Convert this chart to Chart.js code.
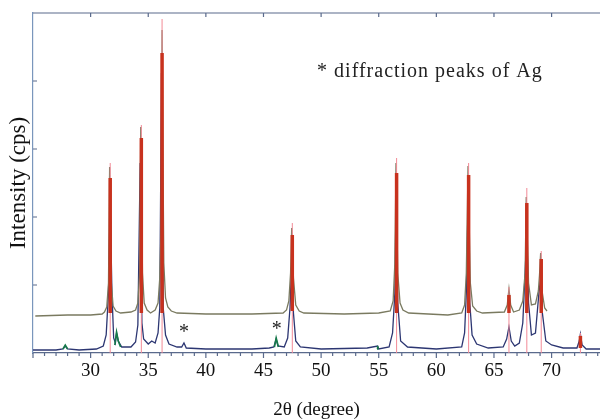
<!DOCTYPE html>
<html>
<head>
<meta charset="utf-8">
<script src="https://cdn.jsdelivr.net/npm/chart.js@4.4.1/dist/chart.umd.min.js"></script>
<style>
html,body{margin:0;padding:0;background:#fff;}
#wrap{width:600px;height:420px;position:relative;}
</style>
</head>
<body>
<div id="wrap"><canvas id="c" width="600" height="420"></canvas></div>
<script>
// ---- data (2θ in degrees, intensity in arbitrary units) ----
const upperX = [25.2,28,30,31.0,31.2,31.4,31.55,31.65,31.8,31.95,32.2,32.6,33.5,33.9,34.1,34.25,34.35,34.5,34.65,34.9,35.2,35.6,35.85,36.0,36.1,36.2,36.35,36.5,36.7,37.0,37.5,40,44,46.7,47.0,47.2,47.35,47.45,47.6,47.8,48.1,48.5,52,55,56.0,56.25,56.4,56.5,56.65,56.85,57.1,57.6,61,62.2,62.45,62.6,62.75,62.95,63.15,63.5,64,65.9,66.15,66.3,66.45,66.7,67.2,67.5,67.7,67.8,68.0,68.25,68.6,68.85,68.95,69.05,69.2,69.4,69.6];
const upperY = [37,38,38,39,41,46,70,186,70,47,42,40,41,43,50,80,226,80,50,43,40,43,50,75,120,323,90,55,46,42,40,39,39,40,43,52,80,125,75,48,42,40,39,40,42,52,90,190,80,50,43,40,38,40,48,80,187,70,47,42,40,41,48,64,48,41,43,52,80,156,70,48,49,62,78,100,60,45,42];

const lowerX = [25,27.0,27.6,27.8,28.0,29,30.5,31.1,31.35,31.55,31.7,31.85,32.0,32.15,32.25,32.4,32.7,33.5,33.9,34.1,34.3,34.45,34.6,35.0,35.3,35.6,35.85,36.0,36.15,36.3,36.5,36.8,37.5,37.9,38.1,38.3,40,44,45.5,45.9,46.1,46.25,46.8,47.1,47.3,47.45,47.6,47.8,48.2,50,54,54.9,55.0,55.9,56.2,56.4,56.5,56.65,56.9,57.5,60,62.2,62.45,62.6,62.75,62.9,63.1,63.5,64.5,65.8,66.1,66.3,66.5,66.8,67.2,67.5,67.7,67.85,68.0,68.25,68.6,68.9,69.05,69.2,69.5,70,71,72.2,72.4,72.5,72.65,73,74.3];
const lowerY = [3,3,4,7,4,3,4,7,18,60,150,60,15,10,20,12,6,6,11,28,190,30,14,9,12,10,20,45,280,45,18,9,6,6,10,5,4,4,5,6,14,7,6,15,45,90,40,12,6,4,5,7,4,6,20,60,150,50,12,6,4,6,20,60,150,50,18,9,5,6,14,26,12,7,10,30,80,120,50,18,20,60,75,40,12,8,5,5,12,19,8,4,4];

// small Ag-related features of the lower trace (green), null = gap
const agX = [27.6,27.8,28.0,null,32.1,32.25,32.4,32.6,null,45.95,46.1,46.3,null,54.85,54.9,54.95];
const agY = [4,8,4,null,8,21,12,6,null,6,15,6,null,4,7,4];

// reference (standard) line positions
const refPos  = [31.7,34.4,36.2,47.5,56.55,62.8,66.3,67.85,69.1,72.5];
const refTop  = [190,228,334,130,195,190,66,165,102,20];
const redLow  = [40,40,40,42,40,40,40,40,40,5];
const redHigh = [175,215,300,118,180,178,58,150,94,17];

const xTickVals = [30,35,40,45,50,55,60,65,70];
const yTickVals = [68,136,204,272];
const agMarks = [[38.1,20],[46.15,23]];
const noteText = '* diffraction peaks of Ag';

const pts = (xs, ys) => xs.map((x,i) => ({x: x===null?NaN:x, y: ys[i]}));
const seg = (xs, lo, hi) => { const a=[]; xs.forEach((x,i)=>{a.push({x, y:lo[i]},{x, y:hi[i]},{x:NaN,y:null});}); return a; };
const zeros = refPos.map(()=>0);

const frame = {
  id:'frame',
  afterDatasetsDraw(chart){
    const {ctx, chartArea:a, scales:{x,y}} = chart;
    ctx.save();
    ctx.strokeStyle = '#5a6a8c';
    ctx.lineWidth = 1.2;
    ctx.beginPath();
    ctx.moveTo(a.left, a.top); ctx.lineTo(a.right, a.top);
    // bottom minor/major ticks (outward)
    for (let v = 25; v <= 74; v++) {
      const px = x.getPixelForValue(v);
      ctx.moveTo(px, a.bottom); ctx.lineTo(px, a.bottom + (v % 5 === 0 ? 5 : 3));
    }
    // top ticks (inward)
    xTickVals.forEach(v => { const px = x.getPixelForValue(v); ctx.moveTo(px, a.top); ctx.lineTo(px, a.top + 4); });
    // left ticks (inward)
    yTickVals.forEach(v => { const py = y.getPixelForValue(v); ctx.moveTo(a.left, py); ctx.lineTo(a.left + 4, py); });
    ctx.stroke();
    // annotations
    ctx.fillStyle = '#222';
    ctx.font = '20px "Liberation Serif", serif';
    ctx.textBaseline = 'middle';
    ctx.textAlign = 'center';
    agMarks.forEach(m => ctx.fillText('*', x.getPixelForValue(m[0]), y.getPixelForValue(m[1])));
    ctx.textAlign = 'left';
    try { ctx.letterSpacing = '1px'; } catch(e) {}
    ctx.fillText(noteText, x.getPixelForValue(49.65), y.getPixelForValue(281));
    ctx.restore();
  }
};

new Chart(document.getElementById('c'), {
  type: 'line',
  data: {
    datasets: [
      {data: seg(refPos, redLow, redHigh), borderColor:'#c8321e', borderWidth:3.5, order:0, spanGaps:false},
      {data: seg(refPos, zeros, refTop), borderColor:'#f28a96', borderWidth:1, order:1, spanGaps:false},
      {data: pts(agX, agY), borderColor:'#167a4a', borderWidth:1.6, order:2, spanGaps:false},
      {data: pts(upperX, upperY), borderColor:'#7a7a60', borderWidth:1.3, order:3},
      {data: pts(lowerX, lowerY), borderColor:'#2c3672', borderWidth:1.3, order:4}
    ]
  },
  options: {
    responsive:false,
    animation:false,
    events:[],
    layout:{padding:{top:13,right:0,left:0,bottom:0}},
    elements:{point:{radius:0}, line:{tension:0}},
    plugins:{legend:{display:false}, tooltip:{enabled:false}},
    scales:{
      x:{
        type:'linear', min:25, max:74.2, offset:false,
        afterBuildTicks(s){ s.ticks = xTickVals.map(v=>({value:v})); },
        afterFit(s){ s.height = 67; },
        grid:{display:false, drawTicks:false},
        border:{display:true, color:'#5a6a8c', width:1.2},
        ticks:{padding:7, color:'#111', font:{family:'"Liberation Serif", serif', size:19}, maxRotation:0},
        title:{display:true, text:'2θ (degree)', color:'#111', font:{family:'"Liberation Serif", serif', size:19, lineHeight:1.0}, padding:{top:0,bottom:0}}
      },
      y:{
        type:'linear', min:0, max:340,
        afterFit(s){ s.width = 33; },
        grid:{display:false, drawTicks:false},
        border:{display:true, color:'#7a96bc', width:1.2},
        ticks:{display:false},
        title:{display:true, text:'Intensity (cps)', color:'#111', font:{family:'"Liberation Serif", serif', size:23, lineHeight:1.0}, padding:{top:7,bottom:0}}
      }
    }
  },
  plugins:[frame]
});
</script>
</body>
</html>
